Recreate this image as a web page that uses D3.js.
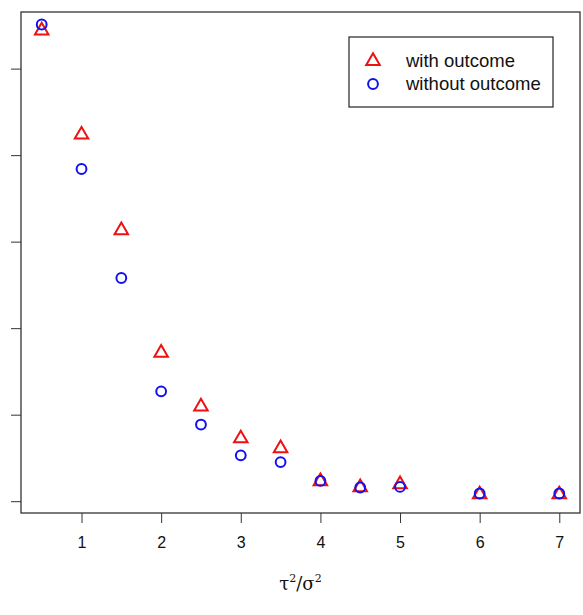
<!DOCTYPE html>
<html>
<head>
<meta charset="utf-8">
<script src="https://cdn.jsdelivr.net/npm/d3@7"></script>
<style>
	body { margin: 0; background: #fff; }
	svg { display: block; }
</style>
</head>
<body>
<div id="chart"></div>
<script>
const WITH_COLOR = "#ee1111";
const WITHOUT_COLOR = "#1111ee";

// tau^2 / sigma^2
const ratio = [0.5, 1, 1.5, 2, 2.5, 3, 3.5, 4, 4.5, 5, 6, 7];
const withOutcome = [0.544, 0.4236, 0.313, 0.1715, 0.1093, 0.0725, 0.061, 0.023, 0.016, 0.0196, 0.0078, 0.0078];
const withoutOutcome = [0.551, 0.384, 0.258, 0.127, 0.0886, 0.053, 0.0452, 0.0234, 0.0158, 0.0165, 0.0089, 0.0089];
const xTicks = [1, 2, 3, 4, 5, 6, 7];
const yTicks = [0, 0.1, 0.2, 0.3, 0.4, 0.5];
const legendLabels = ["with outcome", "without outcome"];

const width = 583,
	height = 615;
const box = { left: 21, right: 580, top: 12, bottom: 513 };

// R style 4% padding
function padded(ext) {
	const p = (ext[1] - ext[0]) * 0.04;
	return [ext[0] - p, ext[1] + p];
}

const x = d3.scaleLinear().domain(padded(d3.extent(ratio))).range([box.left, box.right]);
const y = d3.scaleLinear().domain(padded(d3.extent(withOutcome))).range([box.bottom, box.top]);

const svg = d3
	.select("#chart")
	.append("svg")
	.attr("width", width)
	.attr("height", height)
	.style("font-family", "'Liberation Sans', Arial, sans-serif");

// triangle like R pch 2, centred on centroid
const TR = 7.8;
const triPath = function (cx, cy) {
	const xc = TR * 0.866;
	return "M" + cx + "," + (cy - TR) + "L" + (cx + xc) + "," + (cy + TR / 2) + "L" + (cx - xc) + "," + (cy + TR / 2) + "Z";
};

// axes
const xAxis = d3.axisBottom(x).tickValues(xTicks).tickSize(10).tickPadding(14).tickFormat(d3.format("d"));
const gx = svg.append("g").attr("transform", "translate(0," + box.bottom + ")").call(xAxis);
gx.select(".domain").remove();
gx.selectAll("line").attr("stroke", "#333");
gx.selectAll("text").attr("font-size", "16px").attr("fill", "#111").attr("font-family", "'Liberation Sans', Arial, sans-serif");

const yAxis = d3.axisLeft(y).tickValues(yTicks).tickSize(10).tickFormat("");
const gy = svg.append("g").attr("transform", "translate(" + box.left + ",0)").call(yAxis);
gy.select(".domain").remove();
gy.selectAll("line").attr("stroke", "#333");

svg.append("rect")
	.attr("x", box.left)
	.attr("y", box.top)
	.attr("width", box.right - box.left)
	.attr("height", box.bottom - box.top)
	.attr("fill", "none")
	.attr("stroke", "#333")
	.attr("stroke-width", 1.3);

// points
svg.append("g")
	.selectAll("path")
	.data(ratio)
	.join("path")
	.attr("d", (d, i) => triPath(x(d), y(withOutcome[i])))
	.attr("fill", "none")
	.attr("stroke", WITH_COLOR)
	.attr("stroke-width", 2);

svg.append("g")
	.selectAll("circle")
	.data(ratio)
	.join("circle")
	.attr("cx", d => x(d))
	.attr("cy", (d, i) => y(withoutOutcome[i]))
	.attr("r", 4.9)
	.attr("fill", "none")
	.attr("stroke", WITHOUT_COLOR)
	.attr("stroke-width", 2);

// axis title
const title = svg.append("text")
	.attr("x", (box.left + box.right) / 2)
	.attr("y", 590)
	.attr("text-anchor", "middle")
	.attr("font-family", "'DejaVu Serif', 'Liberation Serif', serif")
	.attr("font-size", "18px")
	.attr("fill", "#111");
title.append("tspan").text("τ");
title.append("tspan").attr("font-size", "11px").attr("dy", -8).text("2");
title.append("tspan").attr("dy", 8).text("/σ");
title.append("tspan").attr("font-size", "11px").attr("dy", -8).text("2");

// legend
const lg = svg.append("g");
lg.append("rect")
	.attr("x", 349)
	.attr("y", 37)
	.attr("width", 204)
	.attr("height", 70)
	.attr("fill", "#fff")
	.attr("stroke", "#333")
	.attr("stroke-width", 1.3);
lg.append("path")
	.attr("d", triPath(373, 61))
	.attr("fill", "none")
	.attr("stroke", WITH_COLOR)
	.attr("stroke-width", 2);
lg.append("circle")
	.attr("cx", 373)
	.attr("cy", 84)
	.attr("r", 4.9)
	.attr("fill", "none")
	.attr("stroke", WITHOUT_COLOR)
	.attr("stroke-width", 2);
lg.selectAll("text")
	.data(legendLabels)
	.join("text")
	.attr("x", 406)
	.attr("y", (d, i) => 67 + i * 23)
	.attr("font-size", "18.5px")
	.attr("fill", "#111")
	.text(d => d);
</script>
</body>
</html>
